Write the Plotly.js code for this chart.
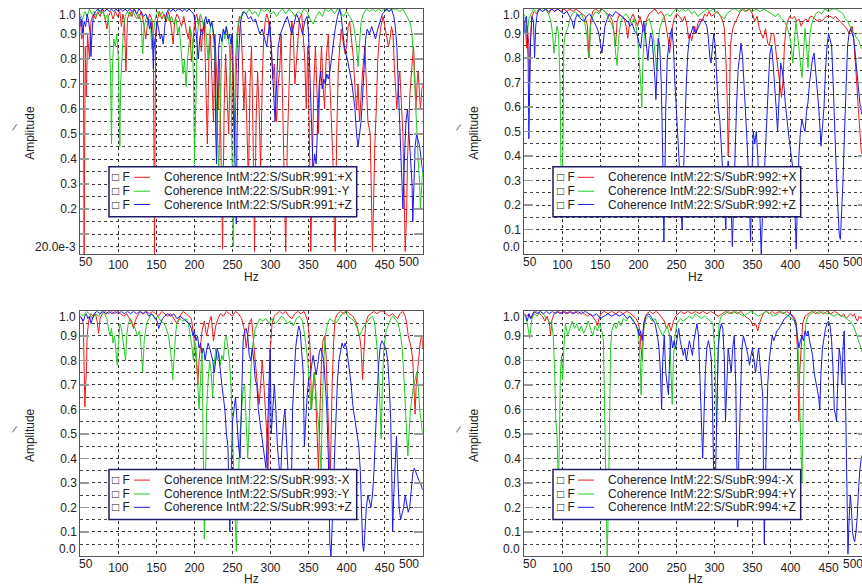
<!DOCTYPE html>
<html><head><meta charset="utf-8">
<script src="https://cdn.plot.ly/plotly-3.0.1.min.js"></script>
<style>html,body{margin:0;padding:0;overflow:hidden;background:#fff}#c{width:870px;height:587px}</style>
</head><body><div id="c"></div>
<script>
const FREQ_TICKS=[100,150,200,250,300,350,400,450];
const AMP_TICKS=[0.1,0.2,0.3,0.4,0.5,0.6,0.7,0.8,0.9];
const AMP_LABELS=['0.1','0.2','0.3','0.4','0.5','0.6','0.7','0.8','0.9'];
const AMP_LABELS_P1=['','0.2','0.3','0.4','0.5','0.6','0.7','0.8','0.9'];
const NAMES_991=['Coherence IntM:22:S/SubR:991:+X','Coherence IntM:22:S/SubR:991:-Y','Coherence IntM:22:S/SubR:991:+Z'];
const NAMES_992=['Coherence IntM:22:S/SubR:992:+X','Coherence IntM:22:S/SubR:992:+Y','Coherence IntM:22:S/SubR:992:+Z'];
const NAMES_993=['Coherence IntM:22:S/SubR:993:-X','Coherence IntM:22:S/SubR:993:-Y','Coherence IntM:22:S/SubR:993:+Z'];
const NAMES_994=['Coherence IntM:22:S/SubR:994:-X','Coherence IntM:22:S/SubR:994:+Y','Coherence IntM:22:S/SubR:994:+Z'];

// [Hz, coherence] pairs
const s991_X=[[50,.95],[52,.88],[54,.93],[55,.02],[56.5,.85],[58,.65],[59.5,.9],[62,.8],[64,.95],[67,.98],[70,.96],[73,.99],[76,.97],[79,1],[82,.97],[85,.92],[87,.97],[90,.99],[93,.96],[96,.99],[99,.97],[102,.99],[104,.93],[106,.98],[108,.95],[110,.75],[112,.96],[115,.99],[118,.97],[121,1],[124,.98],[127,.96],[130,.99],[133,.95],[136,.88],[138,.93],[141,.98],[144,.96],[146,.9],[147.5,.02],[149,.88],[151,.95],[154,.99],[157,.96],[160,.98],[163,.95],[166,.99],[169,.94],[172,.86],[174,.95],[177,.98],[180,.96],[183,.93],[186,.97],[189,.92],[192,.88],[194,.93],[196,.79],[198,.85],[200,.95],[203,.98],[205,.94],[207,.97],[209,.83],[211,.92],[213,.95],[215,.7],[217,.46],[219,.8],[221,.9],[223,.72],[225,.55],[227,.9],[229,.75],[231,.6],[233,.8],[235,.4],[237,.04],[239,.6],[241,.82],[243,.65],[245,.5],[247,.78],[249,.9],[251,.6],[253,.41],[255,.75],[257,.9],[259,.97],[261,.93],[263,.8],[265,.6],[267,.75],[269,.55],[271,.3],[273,.7],[275,.85],[277,.5],[279,.03],[281,.55],[283,.75],[285,.6],[287,.35],[289,.7],[291,.88],[293,.95],[295,.98],[297,.96],[299,.9],[301,.85],[303,.72],[305,.78],[307,.6],[308,.55],[310,.7],[312,.75],[314,.9],[316,.6],[318,.3],[320,.03],[322,.45],[324,.7],[326,.85],[328,.95],[330,.9],[332,.7],[334,.8],[336,.9],[338,.96],[341,.98],[343,.9],[345,.8],[347,.6],[349,.85],[351,.5],[353,.03],[355,.4],[357,.7],[359,.85],[361,.7],[363,.5],[365,.72],[367,.85],[369,.7],[371,.6],[373,.8],[376,.9],[378,.7],[380,.55],[382,.4],[384,.1],[385,.03],[387,.5],[389,.75],[391,.85],[393,.92],[395,.88],[398,.82],[400,.85],[402,.93],[404,.95],[406,.88],[409,.8],[411,.68],[413,.6],[415,.7],[417,.55],[419,.65],[421,.75],[424,.85],[426,.7],[428,.55],[431,.5],[433,.2],[434,.03],[436,.3],[437,.45],[439,.6],[441,.8],[443,.88],[445,.93],[448,.97],[450,.94],[452,.9],[455,.85],[457,.88],[459,.93],[461,.9],[463,.75],[466,.6],[468,.7],[470,.75],[472,.62],[474,.5],[476,.2],[477,.03],[479,.2],[480,.4],[482,.55],[483,.65],[486,.78],[488,.85],[490,.7],[491,.6],[493,.72],[494,.75],[496,.65],[497,.6],[499,.68],[500,.7]];
const s991_Y=[[50,.98],[53,.96],[56,.99],[59,.97],[62,1],[65,.98],[68,.99],[71,.97],[74,1],[77,.98],[80,.99],[83,.96],[86,.98],[88,.93],[90,.7],[91,.46],[92,.75],[94,.88],[96,.85],[98,.9],[100,.8],[102,.45],[103,.7],[105,.85],[107,.93],[109,.97],[112,.99],[115,.97],[118,.99],[121,.98],[124,.96],[127,.98],[130,.95],[132,.82],[134,.93],[137,.97],[140,.94],[142,.96],[144,.84],[146,.9],[149,.97],[152,.99],[155,.97],[158,.99],[161,.96],[164,.98],[167,.95],[170,.97],[173,.94],[176,.96],[178,.9],[180,.93],[182,.85],[184,.78],[185,.74],[187,.8],[189,.69],[191,.8],[193,.87],[195,.92],[197,.88],[199,.7],[200,.38],[202,.6],[204,.9],[206,.96],[208,.98],[210,.96],[212,.93],[214,.95],[216,.87],[218,.8],[220,.9],[222,.95],[224,.92],[226,.85],[228,.7],[230,.55],[232,.35],[234,.6],[236,.85],[238,.92],[240,.88],[242,.93],[244,.9],[246,.85],[248,.7],[250,.3],[251,.05],[252,.4],[254,.8],[256,.9],[258,.95],[261,.97],[264,.99],[268,.98],[272,1],[276,.98],[280,.99],[284,.97],[288,1],[292,.99],[296,1],[300,.98],[304,.99],[308,.97],[312,.99],[316,1],[320,.98],[324,1],[328,.99],[332,.97],[336,.99],[340,.98],[344,1],[348,.99],[352,.96],[356,.94],[360,.97],[364,.99],[368,.97],[372,1],[376,.99],[380,1],[384,.98],[388,1],[392,.99],[396,.97],[400,.99],[404,.97],[408,.95],[411,.9],[413,.85],[415,.77],[417,.85],[419,.95],[422,.98],[426,1],[430,.99],[434,1],[438,.99],[442,1],[446,.99],[450,1],[455,.99],[460,1],[465,1],[470,.99],[474,1],[478,.98],[481,.96],[484,.94],[486,.9],[488,.8],[490,.65],[492,.55],[494,.4],[496,.3],[497,.2],[499,.3],[500,.35]];
const s991_Z=[[50,.97],[51,.93],[52,.96],[53,.9],[55,.95],[57,.93],[59,.98],[61,.95],[63,.9],[64,.81],[65,.88],[67,.97],[70,.99],[73,1],[76,.99],[79,1],[82,.99],[85,1],[88,.99],[91,1],[94,.99],[97,1],[100,.99],[103,1],[106,.99],[109,1],[112,.99],[115,1],[118,.99],[121,1],[124,.98],[127,1],[130,.99],[133,.97],[136,.98],[139,.96],[141,.92],[143,.95],[145,.86],[146,.76],[147,.85],[149,.9],[151,.95],[153,.92],[155,.88],[157,.9],[159,.86],[161,.93],[163,.98],[166,1],[169,.99],[172,1],[175,.99],[178,1],[181,1],[184,.99],[187,1],[190,.99],[193,1],[196,.99],[199,.98],[201,.95],[203,.88],[205,.8],[207,.88],[209,.92],[211,.9],[213,.95],[215,.97],[217,.94],[219,.96],[221,.93],[223,.95],[225,.9],[227,.86],[228,.5],[229,.38],[230,.6],[232,.85],[234,.9],[236,.87],[238,.92],[240,.9],[242,.93],[244,.88],[246,.9],[248,.86],[250,.9],[252,.6],[254,.3],[255,.14],[256,.5],[258,.8],[260,.93],[262,.97],[265,.99],[268,.98],[271,.96],[274,.97],[277,.95],[280,.96],[283,.93],[286,.9],[289,.92],[292,.88],[295,.85],[297,.9],[299,.95],[301,.85],[303,.75],[305,.6],[306,.55],[308,.7],[310,.85],[313,.9],[316,.93],[319,.95],[322,.97],[325,.93],[328,.9],[331,.94],[334,.98],[337,.96],[340,.92],[342,.9],[345,.95],[348,.97],[350,.9],[352,.7],[354,.5],[356,.35],[358,.42],[360,.38],[362,.55],[364,.7],[366,.75],[368,.68],[370,.72],[372,.7],[374,.74],[376,.72],[378,.75],[380,.8],[382,.85],[385,.92],[388,.97],[391,1],[393,.97],[395,.9],[397,.85],[399,.82],[401,.8],[404,.75],[407,.7],[409,.65],[411,.6],[413,.5],[415,.45],[417,.5],[419,.55],[421,.65],[423,.75],[425,.88],[427,.92],[430,.9],[433,.93],[436,.9],[438,.88],[441,.92],[444,.95],[447,.98],[450,.99],[453,1],[456,.99],[459,1],[462,.97],[464,.93],[466,.85],[468,.7],[470,.55],[472,.4],[474,.2],[476,.4],[478,.55],[480,.6],[482,.5],[484,.4],[486,.3],[487,.15],[488,.25],[490,.45],[492,.5],[494,.48],[496,.45],[498,.4],[500,.35]];

const s992_X=[[50,.95],[52,.9],[53,.84],[54,.93],[56,.85],[57,.7],[58,.88],[60,.97],[63,.99],[66,.98],[70,1],[74,.99],[78,1],[82,.98],[86,1],[90,.99],[94,1],[98,.99],[102,1],[106,.99],[110,1],[114,.99],[118,1],[122,.99],[126,.98],[130,.97],[133,.93],[135,.8],[137,.95],[140,.99],[144,1],[148,.99],[152,1],[156,.99],[160,.98],[163,.97],[166,.95],[168,.9],[170,.85],[172,.95],[175,.98],[178,.97],[181,.96],[184,.93],[186,.88],[188,.93],[190,.96],[193,.98],[196,.95],[199,.93],[202,.97],[205,.94],[208,.9],[211,.96],[214,.98],[218,.99],[222,1],[226,.98],[230,.99],[234,.97],[237,.92],[239,.88],[241,.82],[243,.88],[245,.93],[247,.96],[250,.98],[254,.97],[258,.95],[261,.97],[264,.93],[266,.88],[268,.9],[270,.87],[272,.9],[274,.93],[276,.9],[278,.94],[281,.96],[284,.95],[287,.98],[290,.97],[293,.99],[296,.97],[300,.98],[304,.99],[308,.97],[311,.95],[313,.92],[315,.8],[317,.6],[318,.4],[319,.5],[321,.85],[323,.9],[325,.93],[328,.95],[331,.97],[334,.99],[338,1],[342,.99],[346,1],[350,.98],[353,.95],[356,.97],[359,.92],[362,.9],[364,.88],[367,.92],[370,.86],[372,.85],[375,.9],[378,.9],[380,.85],[382,.8],[384,.75],[386,.7],[388,.64],[390,.7],[392,.85],[394,.92],[396,.95],[399,.97],[402,.96],[405,.97],[408,.95],[411,.96],[414,.93],[417,.95],[420,.96],[423,.95],[426,.97],[429,.97],[432,.96],[435,.95],[438,.96],[441,.95],[444,.96],[447,.97],[450,.97],[453,.97],[456,.96],[459,.97],[462,.96],[465,.95],[468,.94],[471,.93],[474,.92],[477,.9],[479,.92],[481,.93],[483,.88],[485,.8],[487,.7],[489,.6],[491,.5],[493,.42],[495,.4],[498,.45],[500,.45]];
const s992_Y=[[50,.98],[52,.95],[54,.9],[56,.96],[59,.98],[62,1],[66,.99],[70,1],[74,.99],[78,1],[82,.98],[85,.95],[87,.9],[89,.82],[91,.88],[93,.93],[95,.9],[97,.7],[98,.4],[99.5,.15],[101,.5],[102,.85],[104,.9],[107,.92],[110,.96],[113,.98],[117,.99],[121,.97],[125,.98],[129,.95],[132,.9],[134,.82],[135.5,.8],[137,.93],[140,.97],[144,.99],[148,.98],[152,1],[156,.99],[160,.97],[163,.95],[166,.93],[168,.9],[170,.82],[172,.77],[174,.88],[177,.95],[180,.97],[184,.98],[188,.96],[191,.94],[194,.96],[197,.93],[199,.88],[201,.8],[203,.7],[204.5,.6],[206,.8],[208,.9],[211,.95],[214,.96],[217,.93],[220,.88],[222,.82],[224,.75],[226,.85],[228,.92],[231,.95],[234,.97],[238,.98],[242,.97],[246,.99],[250,1],[254,.99],[258,1],[262,.99],[266,1],[270,.98],[274,.99],[278,.97],[282,.98],[286,.99],[290,1],[294,.99],[298,1],[302,.99],[306,.98],[310,.97],[313,.96],[316,.98],[320,.99],[324,1],[328,1],[332,.99],[336,1],[340,.99],[345,1],[350,.99],[355,1],[360,.99],[365,1],[370,.99],[375,.98],[380,.97],[384,.98],[388,.96],[392,.95],[395,.93],[398,.9],[401,.85],[403,.78],[405,.88],[407,.95],[409,.9],[411,.85],[413,.78],[415,.72],[417,.85],[419,.92],[421,.85],[423,.76],[425,.88],[427,.93],[430,.96],[433,.98],[437,.99],[441,.98],[445,1],[450,.99],[455,1],[460,1],[465,.99],[469,.98],[472,.96],[475,.95],[478,.93],[481,.91],[484,.9],[487,.88],[490,.87],[493,.84],[496,.83],[500,.82]];
const s992_Z=[[50,.9],[51,.96],[53,.97],[55,.8],[56,.47],[57,.6],[58,.85],[60,.97],[62,.95],[63.5,.8],[65,.93],[67,.98],[70,1],[74,.99],[78,1],[82,.99],[86,1],[90,.99],[94,1],[98,.99],[102,.98],[106,.99],[110,.97],[113,.95],[115,.92],[117,.96],[120,.98],[124,.96],[128,.95],[132,.97],[136,.98],[140,.96],[143,.94],[146,.92],[148,.9],[150,.86],[152,.82],[154,.87],[156,.93],[159,.96],[162,.98],[166,.97],[170,.99],[174,.98],[178,.97],[182,.96],[186,.95],[189,.93],[192,.94],[195,.91],[198,.9],[201,.86],[203,.84],[205,.9],[207,.95],[209,.9],[211,.84],[212.5,.79],[214,.85],[216,.9],[218,.88],[220,.8],[222,.7],[223,.63],[224,.75],[226,.88],[228,.85],[230,.7],[232,.4],[233.5,.05],[235,.35],[236,.6],[238,.8],[240,.86],[242,.9],[244,.92],[246,.85],[248,.7],[250,.6],[252,.5],[254,.35],[256,.2],[257.5,.1],[259,.3],[261,.55],[263,.7],[265,.82],[267,.88],[269,.9],[272,.93],[275,.9],[278,.92],[281,.94],[284,.96],[287,.95],[290,.93],[292,.88],[294,.8],[295.5,.78],[297,.85],[299,.9],[301,.85],[303,.7],[305,.6],[307,.55],[308,.5],[310,.4],[312,.3],[314,.15],[315,.1],[316,.3],[318,.38],[320,.32],[322,.2],[323.5,.03],[325,.2],[327,.4],[329,.6],[331,.75],[333,.82],[335,.86],[337,.8],[339,.7],[341,.6],[343,.45],[345,.3],[346,.15],[347.5,.05],[349,.3],[351,.5],[353,.45],[355,.5],[357,.4],[359,.2],[360,.08],[361.5,0],[363,.15],[365,.3],[367,.45],[369,.6],[371,.7],[373,.82],[375,.85],[377,.78],[379,.7],[381,.6],[383,.5],[385,.65],[387,.78],[389,.75],[391,.7],[393,.62],[395,.55],[397,.5],[399,.45],[401,.4],[403,.35],[405,.3],[406,.15],[407.5,.02],[409,.2],[411,.4],[413,.5],[415,.55],[417,.52],[419,.5],[421,.58],[423,.62],[425,.7],[427,.75],[429,.8],[431,.82],[433,.75],[435,.68],[437,.6],[439,.5],[440,.44],[442,.52],[444,.6],[446,.75],[448,.85],[450,.9],[452,.88],[454,.85],[456,.7],[458,.5],[460,.35],[462,.2],[464,.08],[465.5,.06],[467,.15],[469,.3],[471,.5],[473,.7],[475,.85],[477,.9],[479,.92],[481,.9],[483,.88],[485,.82],[487,.75],[489,.68],[491,.62],[493,.58],[496,.55],[500,.55]];

const s993_X=[[50,.98],[52,.97],[54,.95],[55,.8],[56,.61],[57,.7],[58,.75],[59,.9],[61,.96],[64,.99],[67,.98],[70,.99],[72,.96],[74,.91],[76,.97],[79,.99],[83,1],[87,.99],[91,1],[95,.99],[99,1],[103,.99],[107,.98],[111,.99],[115,.97],[118,.95],[120,.93],[122,.96],[125,.98],[129,1],[133,.99],[137,1],[141,.99],[145,1],[149,.99],[153,.98],[157,1],[161,.99],[165,.98],[169,.99],[173,.97],[177,.95],[181,.98],[185,1],[189,.99],[193,.98],[196,.97],[199,.9],[201,.85],[203,.78],[204.5,.7],[206,.8],[208,.86],[210,.92],[213,.96],[216,.9],[219,.95],[222,.98],[225,.88],[228,.94],[231,.97],[234,.99],[238,.98],[242,1],[246,.99],[250,.98],[254,1],[258,.99],[262,.97],[266,.92],[268,.85],[270,.9],[272,.95],[275,.97],[277,.9],[279,.82],[281,.75],[283,.68],[285,.62],[287,.7],[289,.8],[291,.72],[293,.6],[295,.5],[296.5,.31],[298,.6],[300,.85],[302,.95],[305,.98],[308,.99],[312,1],[316,.99],[320,1],[324,.98],[328,.97],[332,.99],[336,1],[340,.99],[344,1],[348,.97],[350,.93],[352,.85],[354,.6],[356,.7],[358,.75],[360,.6],[362,.45],[363,.35],[365,.6],[367,.8],[369,.88],[371,.9],[373,.82],[375,.65],[377,.45],[378,.25],[379.5,.5],[381,.7],[383,.88],[385,.97],[388,.99],[392,1],[396,.99],[400,1],[404,.99],[408,.98],[412,.96],[415,.92],[417,.9],[419,.85],[421,.72],[423,.85],[425,.95],[428,.98],[432,.99],[436,1],[440,.99],[444,1],[448,1],[452,.99],[456,.98],[460,.99],[464,.98],[467,.97],[470,.99],[474,1],[477,.98],[479,.95],[481,.9],[483,.88],[485,.85],[487,.8],[488.5,.7],[490,.58],[491.5,.7],[493,.75],[495,.82],[497,.88],[499,.9],[500,.85]];
const s993_Y=[[50,.99],[54,.98],[58,1],[62,.99],[66,.97],[70,.99],[74,.98],[78,1],[82,.99],[85,.97],[87,.93],[89,.9],[91,.93],[93,.87],[95,.9],[97,.84],[98.5,.78],[100,.86],[102,.95],[104,.93],[106,.88],[108,.84],[109.5,.8],[111,.9],[113,.95],[116,.97],[119,.95],[122,.93],[125,.9],[128,.92],[130,.85],[132,.75],[134,.88],[137,.95],[140,.97],[144,.99],[148,.97],[152,.98],[156,.96],[160,.95],[163,.93],[166,.9],[168,.85],[170,.8],[171.5,.72],[173,.82],[175,.9],[177,.95],[181,.97],[185,.96],[189,.97],[192,.95],[195,.9],[197,.85],[198.5,.8],[200,.88],[202,.86],[204,.75],[206,.6],[208,.72],[210,.85],[211,.6],[212,.3],[213,.07],[214.5,.3],[216,.6],[218,.72],[220,.8],[222,.75],[224,.65],[226,.78],[228,.85],[230,.8],[232,.83],[234,.78],[236,.82],[238,.8],[240,.88],[242,.9],[244,.85],[246,.8],[248,.7],[250,.5],[252,.3],[254,.15],[255,.02],[256.5,.2],[258,.35],[260,.5],[262,.6],[264,.68],[266,.7],[268,.55],[270,.4],[272,.55],[274,.75],[276,.85],[278,.9],[280,.93],[283,.95],[286,.97],[290,.96],[294,.97],[298,.95],[302,.97],[306,.95],[310,.96],[314,.98],[318,.97],[322,.95],[326,.96],[330,.94],[334,.97],[338,.98],[342,.96],[345,.9],[347,.85],[349,.8],[351,.7],[353,.6],[355,.65],[357,.75],[359,.7],[361,.6],[363,.55],[365,.45],[366.5,.35],[368,.6],[370,.8],[372,.9],[375,.95],[378,.97],[382,.96],[386,.95],[390,.97],[394,.99],[398,1],[402,.98],[406,.97],[410,.96],[414,.93],[417,.9],[420,.92],[423,.94],[426,.95],[430,.97],[434,.98],[437,.95],[440,.85],[442,.75],[444,.6],[445.5,.48],[447,.7],[449,.85],[452,.92],[455,.95],[458,.97],[461,.98],[465,.96],[468,.95],[471,.9],[473,.85],[475,.75],[477,.6],[479,.45],[480.5,.41],[482,.5],[484,.6],[486,.65],[488,.7],[490,.72],[492,.75],[494,.7],[496,.6],[498,.55],[500,.5]];
const s993_Z=[[50,.98],[52,.97],[54,.96],[56,.98],[58,.99],[60,.97],[62,.98],[64,.95],[66,.97],[68,.99],[72,1],[76,.99],[80,1],[84,.99],[88,1],[92,.99],[96,1],[100,.99],[104,1],[108,.99],[112,1],[116,.99],[120,1],[124,.99],[128,1],[132,.99],[136,1],[140,.98],[144,.99],[148,.97],[151,.96],[153,.93],[155,.95],[158,.97],[161,.98],[165,.99],[169,.98],[173,.99],[177,.97],[181,.98],[185,.97],[189,.96],[193,.95],[196,.93],[198,.9],[200,.92],[202,.88],[204,.9],[206,.85],[208,.87],[210,.83],[212,.85],[214,.8],[216,.84],[218,.87],[220,.85],[222,.83],[224,.8],[226,.75],[228,.8],[230,.85],[232,.82],[234,.75],[236,.7],[238,.65],[240,.6],[242,.5],[244,.45],[245.5,.25],[246.5,.1],[248,.3],[250,.55],[252,.6],[254,.65],[256,.55],[258,.45],[260,.4],[262,.65],[264,.88],[266,.92],[268,.93],[270,.9],[272,.82],[274,.8],[276,.85],[278,.8],[280,.72],[282,.7],[284,.6],[286,.55],[288,.5],[290,.45],[292,.4],[294,.36],[296,.5],[298,.7],[299.5,.85],[301,.5],[303,.6],[305,.7],[307,.6],[309,.45],[311,.38],[313,.3],[315,.45],[317,.55],[319,.6],[321,.45],[323,.35],[324.5,.25],[326,.15],[327.5,.3],[329,.6],[331,.75],[333,.85],[335,.9],[337,.94],[339,.92],[341,.85],[343,.75],[344.5,.45],[346,.55],[348,.65],[350,.72],[352,.73],[354,.78],[356,.82],[358,.78],[360,.74],[362,.78],[364,.83],[366,.85],[368,.82],[370,.8],[372,.7],[374,.6],[376,.4],[377,.2],[378,.05],[379.5,0],[381,.1],[382.5,.25],[384,.4],[386,.6],[388,.72],[390,.8],[392,.84],[394,.87],[396,.85],[398,.87],[400,.85],[402,.8],[404,.75],[406,.7],[408,.62],[410,.58],[412,.55],[414,.5],[416,.45],[418,.35],[419.5,.15],[421,.05],[422.5,.02],[424,.12],[426,.2],[428,.25],[430,.22],[432,.2],[434,.25],[436,.35],[438,.5],[440,.65],[442,.78],[444,.85],[446,.88],[448,.87],[450,.86],[452,.84],[454,.8],[456,.7],[458,.55],[459.5,.3],[460.5,.1],[462,.25],[464,.4],[465.5,.49],[467,.35],[469,.2],[471,.15],[473,.17],[475,.2],[477,.25],[479,.22],[481,.18],[483,.2],[485,.28],[487,.34],[489,.36],[491,.34],[493,.33],[495,.31],[497,.3],[499,.28],[500,.27]];

const s994_X=[[50,.99],[53,.98],[56,.99],[59,.97],[62,.99],[66,1],[70,.99],[74,.98],[77,.96],[80,.98],[83,.95],[84.5,.9],[86,.96],[89,.99],[93,1],[97,.99],[101,1],[105,.99],[109,1],[113,.99],[117,1],[121,.99],[125,1],[129,.99],[133,.98],[137,.99],[141,.97],[144,.96],[146,.94],[148,.97],[151,.99],[155,1],[160,.99],[165,1],[170,.99],[175,1],[180,.99],[185,1],[190,.99],[194,.98],[197,.97],[200,.95],[202,.92],[203.5,.85],[205,.8],[206.5,.9],[208,.97],[211,.99],[215,1],[219,.99],[223,1],[227,.99],[231,.97],[234,.96],[237,.93],[240,.95],[243,.92],[246,.96],[249,.98],[252,.99],[256,1],[260,.99],[265,1],[270,.99],[275,1],[280,.99],[285,1],[290,.99],[295,1],[300,.99],[305,.98],[310,.99],[315,1],[320,.99],[325,1],[330,.99],[335,1],[340,.98],[345,.97],[348,.96],[351,.94],[354,.95],[357,.92],[359,.95],[361,.97],[364,.99],[368,1],[372,.99],[376,1],[380,.99],[385,1],[390,.99],[395,1],[400,.99],[404,.98],[407,.96],[409,.85],[410,.7],[411,.55],[412,.75],[414,.88],[416,.95],[419,.98],[423,.99],[428,1],[433,.99],[438,1],[443,.99],[448,1],[453,.99],[458,1],[463,.99],[467,.98],[470,.99],[473,.97],[476,.98],[479,.99],[482,.98],[484,.99],[486,.97],[488,.96],[490,.98],[493,.97],[496,.99],[500,.98]];
const s994_Y=[[50,.98],[52,.97],[54,.95],[55.5,.92],[57,.89],[58.5,.93],[60,.97],[63,.99],[67,.98],[71,1],[75,.99],[79,.97],[83,.96],[86,.95],[88,.9],[90,.75],[91.5,.55],[93,.5],[94,.38],[95,.3],[96,.45],[97.5,.75],[99,.82],[100.5,.72],[102,.85],[104,.95],[107,.9],[110,.93],[113,.96],[116,.93],[119,.95],[122,.92],[125,.94],[128,.91],[131,.93],[134,.96],[137,.93],[140,.9],[143,.94],[146,.92],[149,.95],[152,.92],[154,.88],[155.5,.6],[157,.3],[158,.03],[159,0],[160.5,.2],[162,.5],[163.5,.85],[165,.92],[168,.95],[171,.93],[174,.96],[177,.94],[180,.97],[184,.96],[188,.98],[192,.97],[196,.95],[199,.92],[201,.88],[202.5,.78],[203.5,.66],[205,.8],[207,.93],[210,.97],[214,.98],[218,.96],[222,.97],[226,.94],[229,.92],[232,.9],[235,.92],[238,.94],[241,.9],[243,.75],[244.5,.62],[246,.8],[248,.9],[251,.95],[255,.97],[259,.96],[263,.97],[267,.98],[271,.97],[275,.99],[279,.98],[283,.97],[287,.98],[291,.97],[295,.96],[298,.95],[300,.85],[301.5,.7],[303,.53],[304.5,.8],[306,.95],[309,.98],[313,.99],[318,1],[323,.99],[328,1],[333,.99],[338,.98],[343,.99],[348,1],[353,.99],[358,.98],[363,.99],[368,1],[373,.99],[378,.98],[383,.99],[388,1],[393,.99],[398,.98],[402,.97],[405,.96],[408,.93],[410,.85],[412,.6],[413.5,.4],[415,.3],[416.5,.55],[418,.85],[420,.95],[423,.98],[427,.99],[432,1],[437,.99],[442,1],[447,.99],[452,.99],[457,.98],[462,.99],[466,.98],[470,.98],[474,.97],[478,.96],[481,.95],[484,.93],[487,.9],[490,.88],[493,.85],[496,.82],[500,.8]];
const s994_Z=[[50,.99],[52,.98],[54,.96],[56,.99],[58,.97],[60,.98],[63,1],[67,.99],[71,1],[75,.99],[79,1],[83,.99],[87,1],[91,.99],[95,1],[99,.99],[103,1],[107,.99],[111,1],[115,.99],[120,1],[125,.99],[130,1],[135,.99],[140,.98],[145,.99],[150,.97],[155,.98],[160,.99],[165,.98],[170,.99],[175,.98],[180,.99],[185,.97],[189,.98],[193,.96],[196,.95],[199,.93],[201,.9],[203,.92],[205,.88],[207,.95],[210,.98],[214,.99],[218,.97],[222,.95],[225,.9],[227,.85],[229,.75],[230.5,.6],[232,.8],[234,.9],[236,.75],[238,.7],[239.5,.66],[241,.8],[243,.9],[245,.85],[247,.88],[249,.85],[251,.9],[253,.93],[255,.88],[257,.85],[259,.82],[261,.85],[263,.8],[265,.84],[267,.88],[269,.85],[271,.82],[273,.88],[275,.92],[277,.95],[279,.9],[281,.7],[283,.55],[284.5,.4],[286,.55],[288,.75],[290,.85],[292,.88],[294,.85],[296,.8],[297.5,.6],[299,.4],[300,.15],[301.5,.35],[303,.6],[305,.85],[307,.92],[309,.95],[311,.93],[313,.8],[314.5,.55],[316,.7],[318,.85],[320,.8],[322,.75],[324,.85],[326,.9],[328,.7],[329.5,.35],[330.5,.12],[332,.4],[334,.65],[336,.85],[338,.9],[340,.88],[342,.85],[344,.82],[346,.78],[348,.82],[350,.85],[352,.8],[354,.75],[356,.8],[358,.85],[360,.78],[362,.7],[363.5,.65],[364.5,.3],[365.5,.05],[367,.3],[368.5,.5],[370,.7],[372,.8],[374,.85],[376,.9],[378,.88],[380,.9],[382,.92],[385,.93],[388,.95],[392,.97],[396,.98],[400,.99],[404,.97],[407,.95],[409,.9],[411,.85],[413,.88],[415,.9],[417,.88],[419,.92],[421,.9],[423,.92],[425,.88],[427,.85],[429,.82],[431,.75],[433,.72],[435,.68],[437,.65],[438.5,.6],[440,.75],[442,.85],[444,.9],[446,.93],[448,.95],[450,.96],[452,.94],[454,.88],[456,.75],[457.5,.6],[459,.58],[460.5,.55],[462,.7],[464,.85],[466,.8],[467.5,.7],[469,.85],[470.5,.92],[472,.7],[473,.5],[474,.2],[475.5,.01],[477,.15],[478.5,.25],[480,.2],[481.5,.1],[483,.07],[484.5,.06],[486,.1],[487.5,.15],[489,.25],[491,.35],[493,.4],[495,.42],[500,.45]];

const W=870,H=587;
const FONT='"Liberation Sans", Arial, sans-serif';
const COLORS=['#ee1a1a','#22cc22','#1a1aee'];
const panels=[
 {l:80.3,r:422.7,t:9,b:254,ymin:0.02,bottom:'20.0e-3',labels:AMP_LABELS_P1,series:[s991_X,s991_Y,s991_Z],names:NAMES_991,lgTop:166.7},
 {l:524.3,r:866.6,t:9,b:254,ymin:0,bottom:'0.0',labels:AMP_LABELS,series:[s992_X,s992_Y,s992_Z],names:NAMES_992,lgTop:166.7},
 {l:80.3,r:422.7,t:311.3,b:556.3,ymin:0,bottom:'0.0',labels:AMP_LABELS,series:[s993_X,s993_Y,s993_Z],names:NAMES_993,lgTop:469.5},
 {l:524.3,r:866.6,t:311.3,b:556.3,ymin:0,bottom:'0.0',labels:AMP_LABELS,series:[s994_X,s994_Y,s994_Z],names:NAMES_994,lgTop:469.5}
];
const px=v=>v/W, py=v=>1-v/H;
const traces=[],layout={width:W,height:H,margin:{l:0,r:0,t:0,b:0},paper_bgcolor:'#fff',plot_bgcolor:'#fff',
 font:{family:FONT,size:12,color:'#222'},showlegend:false,annotations:[],shapes:[]};
const ann=(text,x,y,xa,ya,extra)=>layout.annotations.push(Object.assign({text,x:px(x),y:py(y),xref:'paper',yref:'paper',xanchor:xa,yanchor:ya,showarrow:false,borderpad:0,font:{family:FONT,size:12,color:'#222'}},extra||{}));
panels.forEach((p,i)=>{
 const n=i===0?'':String(i+1);
 layout['xaxis'+n]={domain:[px(p.l),px(p.r)],range:[50,500],anchor:'y'+n,tickvals:FREQ_TICKS,ticktext:FREQ_TICKS.map(String),
  showgrid:true,gridcolor:'#333',griddash:'dot',gridwidth:1,showline:true,mirror:true,linecolor:'#555',linewidth:1,ticks:'',zeroline:false,
  tickfont:{family:FONT,size:12,color:'#222'}};
 layout['yaxis'+n]={domain:[py(p.b),py(p.t)],range:[p.ymin,1],anchor:'x'+n,tickvals:AMP_TICKS,ticktext:p.labels,
  ticks:'inside',ticklen:9,tickwidth:1.5,tickcolor:'#999',showline:true,mirror:'ticks',linecolor:'#555',linewidth:1,zeroline:false,
  showgrid:true,gridcolor:'#333',griddash:'dot',gridwidth:1,tickfont:{family:FONT,size:12,color:'#222'},
  minor:{tick0:0,dtick:0.05,showgrid:true,gridcolor:'#444',griddash:'dot',gridwidth:1,ticks:''}};
 p.series.forEach((s,k)=>traces.push({x:s.map(d=>d[0]),y:s.map(d=>d[1]),xaxis:'x'+n,yaxis:'y'+n,mode:'lines',
  line:{color:COLORS[k],width:1},hoverinfo:'skip',name:p.names[k]}));
 // edge tick labels (min / max) drawn inside the frame like the original
 ann('1.0',p.l-3,p.t+6,'right','middle');
 ann(p.bottom,p.l-3,p.b-7.3,'right','middle');
 ann('50',p.l+5.7,p.b+7.7,'center','middle');
 ann('500',p.r-14,p.b+7.7,'center','middle');
 ann('Hz',(p.l+p.r)/2,p.b+23,'center','middle');
 const cy=(p.t+p.b)/2;
 ann('Amplitude',p.l-51,cy+1,'center','middle',{textangle:-90});
 ann('/',p.l-66,cy-4,'center','middle',{textangle:20,font:{family:FONT,size:10,color:'#555'}});
 // legend box
 const dx=p.l-80.3, T=p.lgTop;
 layout.shapes.push({type:'rect',xref:'paper',yref:'paper',x0:px(109+dx),x1:px(356.7+dx),y0:py(T+50),y1:py(T),
  line:{color:'#1c1c66',width:1.5},fillcolor:'#fff',layer:'above'});
 [10.6,24.5,37.8].forEach((o,k)=>{
  layout.shapes.push({type:'line',xref:'paper',yref:'paper',x0:px(134+dx),x1:px(150+dx),y0:py(T+o),y1:py(T+o),
   line:{color:COLORS[k],width:1},layer:'above'});
  ann('□ F',111.5+dx,T+o,'left','middle',{font:{family:FONT,size:12,color:'#222'}});
  ann(p.names[k],162.5+dx,T+o,'left','middle',{font:{family:FONT,size:12,color:'#222'}});
 });
});
Plotly.newPlot('c',traces,layout,{staticPlot:true});
</script></body></html>
